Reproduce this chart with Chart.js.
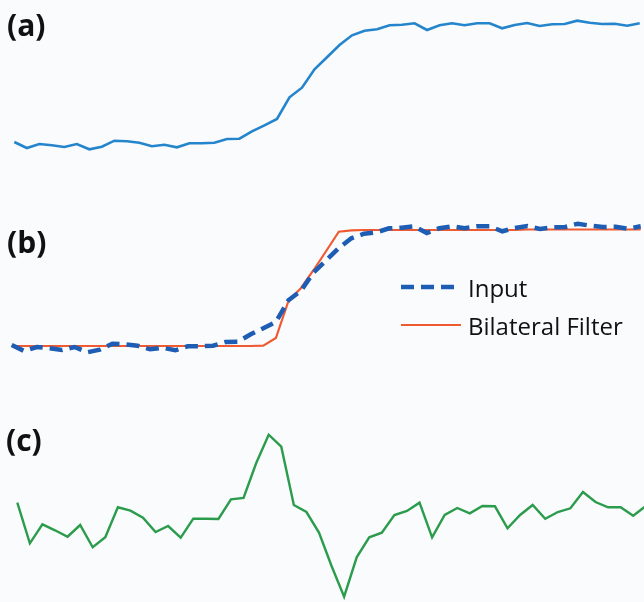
<!DOCTYPE html>
<html>
<head>
<meta charset="utf-8">
<script src="https://cdn.jsdelivr.net/npm/chart.js@4/dist/chart.umd.min.js"></script>
<style>
  html, body { margin: 0; padding: 0; overflow: hidden; background: #fafbfd; }
  #wrap { position: relative; width: 644px; height: 602px; overflow: hidden; }
  #wrap canvas { position: absolute; left: 0; top: 0; }
</style>
</head>
<body>
<div id="wrap">
  <canvas id="panelA" width="650" height="602"></canvas>
  <canvas id="panelB" width="650" height="602"></canvas>
  <canvas id="panelC" width="650" height="602"></canvas>
</div>
<script>
// Sample index along the 1-D signal (51 samples)
const samples = Array.from({ length: 51 }, (_, i) => i);

// Input signal: noisy step edge
const inputSignal = [
  8, 2, 6, 4.7, 3, 6, 0.7, 3.3, 9.3, 8.7,
  7.3, 3.7, 5.3, 2.7, 6.7, 6.7, 7.3, 11, 11.3, 18.7,
  24.7, 31, 52.7, 62.3, 80.7, 92.7, 105, 114.7, 119.3, 120.7,
  124.7, 125.3, 126.7, 120, 124.7, 126.7, 124.7, 126.7, 126.7, 121.7,
  125, 127, 124, 125.7, 126, 129.3, 127.3, 126, 126.3, 124.3,
  126.7
];

// Bilateral-filtered signal (edge-preserving smooth)
const filteredSignal = [
  7, 7, 7, 7, 7, 7, 7, 7, 7, 7,
  7, 7, 7, 7, 7, 7, 7, 7, 7, 7,
  7.3, 15, 52, 65, 83, 102, 121.3, 122.7, 123, 123,
  123, 123, 123, 123, 123, 123, 123, 123, 123, 123,
  123, 123.5, 123.5, 123.5, 123.5, 123.5, 123.5, 123.5, 123.5, 123.5,
  123.7
];

// Detail layer (input minus filtered, magnified)
const detailSignal = [
  12.3, -28.3, -9.3, -15.3, -21.7, -10, -32.3, -22.3, 7.7, 4.3,
  -2.7, -17, -11, -22.7, -3.7, -3.7, -4, 15.7, 17, 51.7,
  80.3, 68.3, 10, 3, -17.5, -51, -81.7, -42.3, -22.3, -17.7,
  0, 4, 12.3, -22.3, 0, 7, 1.7, 9, 8.7, -13.3,
  0, 10, -3.7, 3, 6.7, 23, 13, 7.7, 7.7, -0.7,
  9
];

const panelLabels = ['(a)', '(b)', '(c)'];
const legendLabels = ['Input', 'Bilateral Filter'];

const toPoints = arr => arr.map((y, i) => ({ x: samples[i], y }));

// Draws the panel tag and, where requested, an inline legend built from the datasets
const panelDecor = {
  id: 'panelDecor',
  afterDraw(chart, args, opts) {
    const ctx = chart.ctx;
    ctx.save();
    ctx.fillStyle = '#111';
    ctx.textBaseline = 'alphabetic';
    ctx.textAlign = 'left';
    ctx.font = 'bold 30px "Open Sans", sans-serif';
    ctx.fillText(opts.tag, opts.tagX, opts.tagY);
    if (opts.legend) {
      const L = opts.legend;
      ctx.font = '24px "Open Sans", sans-serif';
      chart.data.datasets.forEach((ds, i) => {
        const y = L.y + i * L.gap;
        ctx.beginPath();
        ctx.strokeStyle = ds.borderColor;
        ctx.lineWidth = ds.borderWidth;
        ctx.setLineDash(ds.borderDash || []);
        ctx.moveTo(L.x, y);
        ctx.lineTo(L.x + L.len, y);
        ctx.stroke();
        ctx.setLineDash([]);
        ctx.fillStyle = '#111';
        ctx.fillText(ds.label, L.x + L.len + 7, y + L.textDy);
      });
    }
    ctx.restore();
  }
};

function hiddenScales(yMin, yMax) {
  return {
    x: { type: 'linear', min: 0, max: 50, display: false },
    y: { type: 'linear', min: yMin, max: yMax, display: false }
  };
}

function makePanel(id, datasets, pad, yMin, yMax, decor) {
  return new Chart(document.getElementById(id), {
    type: 'line',
    data: { datasets },
    options: {
      responsive: false,
      devicePixelRatio: 1,
      animation: false,
      events: [],
      layout: { padding: pad },
      scales: hiddenScales(yMin, yMax),
      elements: { point: { radius: 0 }, line: { tension: 0 } },
      plugins: { legend: { display: false }, tooltip: { enabled: false }, panelDecor: decor }
    },
    plugins: [panelDecor]
  });
}

// (a) input signal
makePanel('panelA', [{
  label: 'Input',
  data: toPoints(inputSignal),
  borderColor: '#2585cc',
  borderWidth: 2.6,
  clip: false
}], { left: 14.3, right: 10.3, top: 0, bottom: 452 }, 0, 150,
  { tag: panelLabels[0], tagX: 7, tagY: 36 });

// (b) input vs bilateral filter
makePanel('panelB', [{
  label: legendLabels[0],
  data: toPoints(inputSignal),
  borderColor: '#1d5db4',
  borderWidth: 4.5,
  borderDash: [13, 7],
  clip: false
}, {
  label: legendLabels[1],
  data: toPoints(filteredSignal),
  borderColor: '#f05a32',
  borderWidth: 2.2,
  clip: false
}], { left: 11.7, right: 9.3, top: 203, bottom: 249 }, 0, 150,
  { tag: panelLabels[1], tagX: 7, tagY: 253, legend: { x: 401, y: 287, gap: 38, len: 60, textDy: 10 } });

// (c) detail layer
makePanel('panelC', [{
  label: 'Detail',
  data: toPoints(detailSignal),
  borderColor: '#2b9c4c',
  borderWidth: 2.4,
  clip: false
}], { left: 17.3, right: 4.2, top: 415, bottom: 0 }, -87, 100,
  { tag: panelLabels[2], tagX: 6, tagY: 451 });
</script>
</body>
</html>
